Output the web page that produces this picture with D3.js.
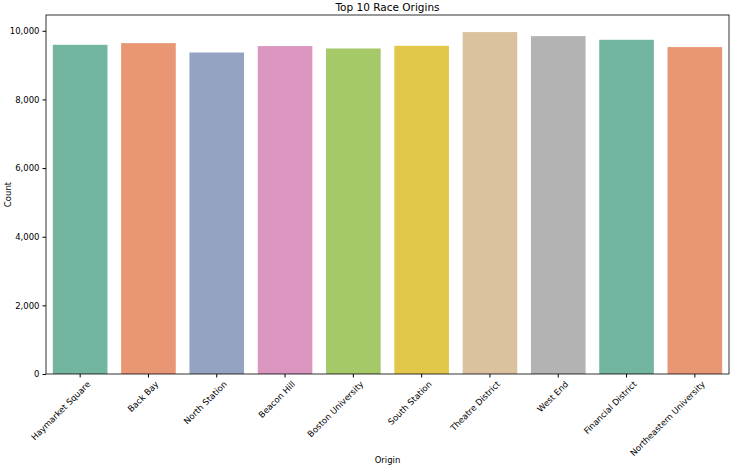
<!DOCTYPE html>
<html><head><meta charset="utf-8">
<script src="https://cdn.jsdelivr.net/npm/d3@7"></script>
<style>body{margin:0;background:#fff}text{font-family:"DejaVu Sans",sans-serif}</style>
</head><body>
<svg id="chart" width="741" height="472"></svg>
<script>
const origins = ["Haymarket Square","Back Bay","North Station","Beacon Hill","Boston University","South Station","Theatre District","West End","Financial District","Northeastern University"];
const counts = [9592,9641,9367,9554,9484,9563,9962,9845,9738,9525];
const colors = ["#72b6a1","#e99675","#95a3c3","#db96c0","#a5c869","#e3c74a","#dbc29e","#b3b3b3","#72b6a1","#e99675"];
const yTicks = [0,2000,4000,6000,8000,10000];

const m = {l:46, r:12, t:15, b:98};
const svg = d3.select("#chart");
const W = 741 - m.l - m.r, H = 472 - m.t - m.b;
const g = svg.append("g").attr("transform", `translate(${m.l},${m.t})`);

const x = d3.scaleBand().domain(origins).range([0, W]).paddingInner(0.2).paddingOuter(0.1);
const y = d3.scaleLinear().domain([0, 10460]).range([H, 0]);

g.selectAll("rect").data(origins).enter().append("rect")
  .attr("x", d => x(d)).attr("width", x.bandwidth())
  .attr("y", (d,i) => y(counts[i])).attr("height", (d,i) => H - y(counts[i]))
  .attr("fill", (d,i) => colors[i]);

const ya = g.append("g").call(d3.axisLeft(y).tickValues(yTicks).tickSize(3.5).tickPadding(3));
ya.selectAll("text").attr("font-size", 8.5).attr("fill", "#000");
const xa = g.append("g").attr("transform", `translate(0,${H})`).call(d3.axisBottom(x).tickSize(3.5));
xa.selectAll("text").attr("font-size", 8.5).attr("fill", "#000")
  .attr("text-anchor", "end").attr("transform", "translate(4,4) rotate(-45)").attr("dy", "0.35em").attr("dx", "0");
[ya, xa].forEach(a => { a.select(".domain").remove(); a.selectAll("line").attr("stroke", "#000"); });

g.append("rect").attr("width", W).attr("height", H).attr("fill", "none").attr("stroke", "#000").attr("stroke-width", 0.8);

svg.append("text").attr("x", m.l + W/2).attr("y", 11).attr("text-anchor", "middle").attr("font-size", 10.5).text("Top 10 Race Origins");
svg.append("text").attr("x", m.l + W/2).attr("y", 463).attr("text-anchor", "middle").attr("font-size", 8.5).text("Origin");
svg.append("text").attr("transform", `translate(11,${m.t + H/2}) rotate(-90)`).attr("text-anchor", "middle").attr("font-size", 8.5).text("Count");
</script>
</body></html>
